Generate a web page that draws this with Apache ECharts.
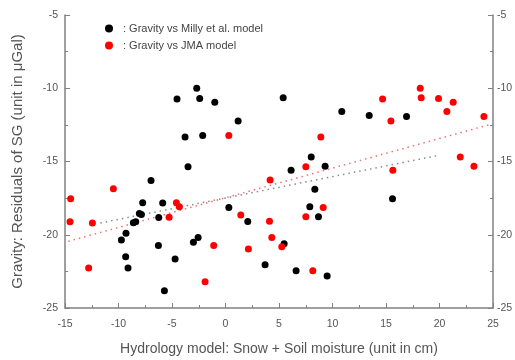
<!DOCTYPE html>
<html><head><meta charset="utf-8">
<script src="https://cdn.jsdelivr.net/npm/echarts@6/dist/echarts.min.js"></script>
<style>html,body{margin:0;padding:0;background:#fff}#c{width:515px;height:360px}</style>
</head><body><div id="c"></div>
<script>
// Gravity vs Milly et al. model: [hydrology cm, gravity residual µGal]
const millyX = [-9.73,-9.30,-9.33,-9.11,-8.61,-8.39,-8.05,-7.86,-7.74,-6.96,-6.24,-6.27,-5.87,-5.71,-4.71,-4.53,-3.78,-3.50,-3.00,-2.69,-2.56,-2.41,-2.13,-1.00,0.31,1.18,2.08,3.70,5.39,5.48,6.13,6.60,7.88,8.01,8.35,8.69,9.31,9.50,10.87,13.43,15.61,16.92];
const millyY = [-20.36,-19.90,-21.50,-22.27,-19.18,-19.11,-18.55,-18.61,-17.82,-16.30,-18.82,-20.73,-17.84,-23.82,-21.66,-10.73,-13.32,-15.36,-20.52,-10.00,-20.18,-10.70,-13.23,-10.95,-18.14,-12.23,-19.09,-22.05,-10.64,-20.61,-15.59,-22.45,-18.09,-14.70,-16.89,-18.77,-15.32,-22.82,-11.59,-11.86,-17.55,-11.93];
// Gravity vs JMA model
const jmaX = [-14.47,-14.53,-12.79,-12.44,-10.48,-5.27,-4.59,-4.31,-1.91,-1.10,0.31,1.43,2.14,4.11,4.17,4.33,5.26,7.51,7.51,8.16,8.91,9.13,14.68,15.46,15.64,18.20,18.29,19.91,20.69,21.28,21.94,23.22,24.15];
const jmaY = [-17.55,-19.11,-22.27,-19.20,-16.86,-18.80,-17.82,-18.09,-23.20,-20.73,-13.23,-18.66,-20.98,-19.07,-16.27,-20.18,-20.82,-18.77,-15.36,-22.45,-13.32,-18.14,-10.73,-12.23,-15.59,-10.00,-10.64,-10.70,-11.59,-10.95,-14.70,-15.32,-11.93];
// Linear trend endpoints
const millyTrendX = [-11.7, 19.8];
const millyTrendY = [-19.2, -14.6];
const jmaTrendX = [-14.7, 24.6];
const jmaTrendY = [-20.45, -12.5];
const xTicks = [-15, 25, 5];
const yTicks = [-25, -5, 5];
const seriesNames = [': Gravity vs Milly et al. model', ': Gravity vs JMA model'];

const zip = (a, b) => a.map((v, i) => [v, b[i]]);
const axisColor = '#808080';
const labelColor = '#555';
const chart = echarts.init(document.getElementById('c'));
const yAxisBase = {
  type: 'value', min: yTicks[0], max: yTicks[1], interval: yTicks[2],
  axisLine: {show: true, onZero: false, lineStyle: {color: axisColor, width: 1.5}},
  axisTick: {show: true, inside: true, length: 5, lineStyle: {color: axisColor}},
  minorTick: {show: true, splitNumber: 2, length: 3, lineStyle: {color: axisColor}},
  splitLine: {show: false},
  axisLabel: {color: labelColor, fontSize: 10.5, fontFamily: 'Liberation Sans, Arial'}
};
chart.setOption({
  animation: false,
  backgroundColor: '#fff',
  grid: {left: 65, right: 22, top: 15, bottom: 52, containLabel: false, outerBoundsMode: 'none'},
  legend: {
    left: 100, top: 18, orient: 'vertical', itemGap: 6, itemWidth: 8, itemHeight: 8,
    icon: 'circle',
    data: seriesNames,
    textStyle: {color: '#444', fontSize: 11, fontFamily: 'Liberation Sans, Arial', padding: [0,0,0,5]}
  },
  xAxis: {
    type: 'value', min: xTicks[0], max: xTicks[1], interval: xTicks[2],
    name: 'Hydrology model: Snow + Soil moisture (unit in cm)',
    nameLocation: 'middle', nameGap: 34,
    nameTextStyle: {color: labelColor, fontSize: 14, fontFamily: 'Liberation Sans, Arial'},
    axisLine: {show: true, onZero: false, lineStyle: {color: axisColor, width: 1.5}},
    axisTick: {show: true, inside: true, length: 5, lineStyle: {color: axisColor}},
    minorTick: {show: true, splitNumber: 2, length: 3, lineStyle: {color: axisColor}},
    splitLine: {show: false},
    axisLabel: {color: labelColor, fontSize: 10.5, margin: 11, fontFamily: 'Liberation Sans, Arial'}
  },
  yAxis: [
    Object.assign({}, yAxisBase, {
      position: 'left',
      name: 'Gravity: Residuals of SG (unit in μGal)',
      nameLocation: 'middle', nameGap: 40, nameRotate: 90,
      nameTextStyle: {color: labelColor, fontSize: 15, fontFamily: 'Liberation Sans, Arial'},
      axisLabel: Object.assign({}, yAxisBase.axisLabel, {margin: 7})
    }),
    Object.assign({}, yAxisBase, {
      position: 'right',
      axisLabel: Object.assign({}, yAxisBase.axisLabel, {margin: 4})
    })
  ],
  series: [
    {name: seriesNames[0], type: 'scatter', symbolSize: 7, itemStyle: {color: '#000', opacity: 1}, data: zip(millyX, millyY), z: 3},
    {name: seriesNames[1], type: 'scatter', symbolSize: 7, itemStyle: {color: '#ff0000', opacity: 1}, data: zip(jmaX, jmaY), z: 4},
    {type: 'line', data: zip(millyTrendX, millyTrendY), symbol: 'none', silent: true,
     lineStyle: {color: '#8a8a8a', width: 1.5, type: [1.5, 4]}, z: 2},
    {type: 'line', data: zip(jmaTrendX, jmaTrendY), symbol: 'none', silent: true,
     lineStyle: {color: '#f07070', width: 1.5, type: [1.5, 4]}, z: 2}
  ]
});
</script></body></html>
